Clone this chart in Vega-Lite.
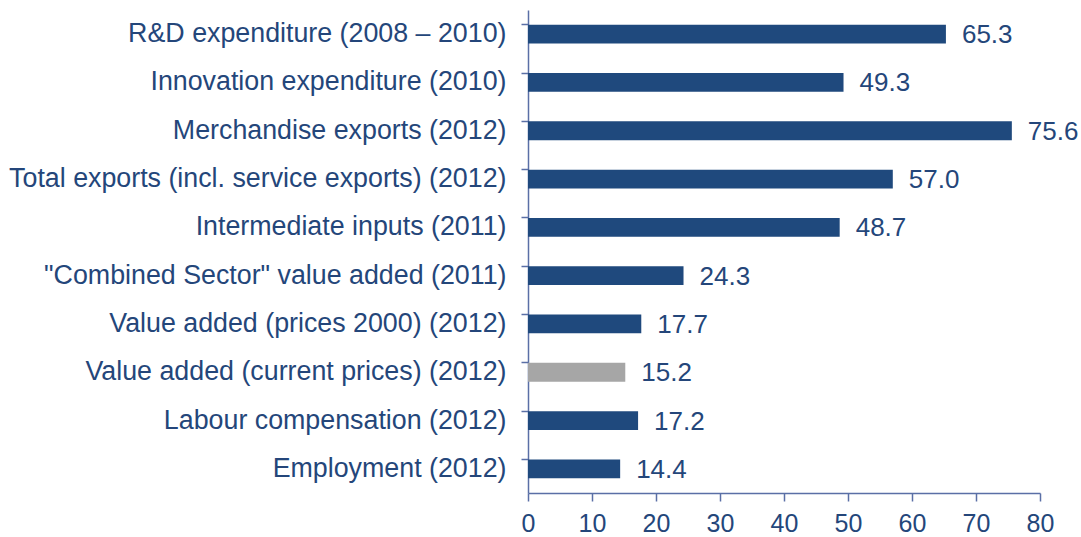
{
  "$schema": "https://vega.github.io/schema/vega-lite/v6.json",
  "autosize": "none",
  "width": 512,
  "height": 483,
  "padding": {"left": 528, "top": 10, "right": 41, "bottom": 44},
  "background": "white",
  "config": {
    "view": {"stroke": null},
    "font": "Liberation Sans"
  },
  "data": {
    "values": [
      {"item": "R&D expenditure (2008 – 2010)", "value": 65.3},
      {"item": "Innovation expenditure (2010)", "value": 49.3},
      {"item": "Merchandise exports (2012)", "value": 75.6},
      {"item": "Total exports (incl. service exports) (2012)", "value": 57.0},
      {"item": "Intermediate inputs (2011)", "value": 48.7},
      {"item": "\"Combined Sector\" value added (2011)", "value": 24.3},
      {"item": "Value added (prices 2000) (2012)", "value": 17.7},
      {"item": "Value added (current prices) (2012)", "value": 15.2},
      {"item": "Labour compensation (2012)", "value": 17.2},
      {"item": "Employment (2012)", "value": 14.4}
    ]
  },
  "encoding": {
    "y": {
      "field": "item",
      "type": "nominal",
      "sort": null,
      "scale": {"paddingInner": 0.61, "paddingOuter": 0.305},
      "axis": {
        "title": null,
        "bandPosition": 0,
        "domainColor": "#5A6FA6",
        "tickColor": "#5A6FA6",
        "domainWidth": 1.5,
        "tickWidth": 1.5,
        "tickSize": 7,
        "labelPadding": 15,
        "labelFontSize": 26.8,
        "labelColor": "#24467A",
        "labelLimit": 700,
        "grid": false
      }
    },
    "x": {
      "field": "value",
      "type": "quantitative",
      "scale": {"domain": [0, 80], "nice": false},
      "axis": {
        "title": null,
        "values": [0, 10, 20, 30, 40, 50, 60, 70, 80],
        "domainColor": "#5A6FA6",
        "tickColor": "#5A6FA6",
        "domainWidth": 1.5,
        "tickWidth": 1.5,
        "tickSize": 8,
        "labelPadding": 10,
        "labelFontSize": 25,
        "labelColor": "#24467A",
        "grid": false,
        "labelFlush": false
      }
    }
  },
  "layer": [
    {
      "mark": {"type": "bar"},
      "encoding": {
        "color": {
          "condition": {"test": "datum.item === 'Value added (current prices) (2012)'", "value": "#A6A6A6"},
          "value": "#1F497D"
        }
      }
    },
    {
      "mark": {"type": "text", "align": "left", "baseline": "middle", "dx": 16, "dy": 1, "fontSize": 26, "color": "#24467A"},
      "encoding": {
        "text": {"field": "value", "type": "quantitative", "format": ".1f"}
      }
    }
  ]
}
